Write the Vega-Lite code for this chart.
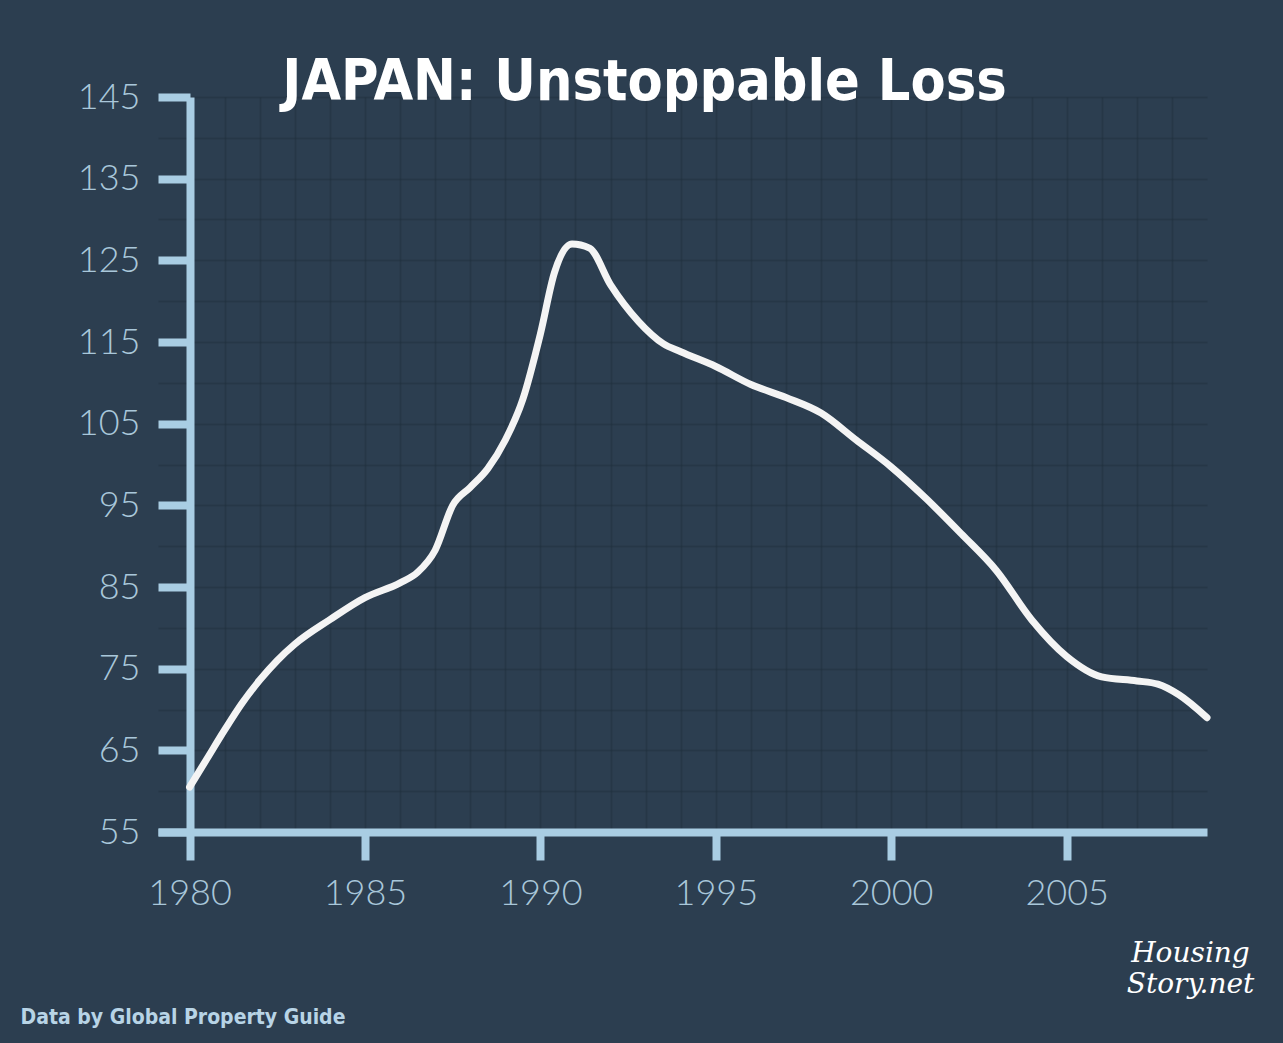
{
  "$schema": "https://vega.github.io/schema/vega-lite/v6.json",
  "width": 1049,
  "height": 735,
  "autosize": {"type": "none"},
  "padding": {"left": 158, "top": 97, "right": 76, "bottom": 211},
  "background": "#2c3e50",
  "config": {"view": {"stroke": null}},
  "title": {
    "text": "JAPAN: Unstoppable Loss",
    "font": "Liberation Sans Narrow, DejaVu Sans Condensed, Arial Narrow, sans-serif",
    "fontSize": 57,
    "fontWeight": "bold",
    "color": "#ffffff",
    "anchor": "middle",
    "frame": "group",
    "baseline": "alphabetic",
    "offset": 0,
    "dx": -38,
    "dy": 78
  },
  "data": {
    "values": [
      {"year": 1980.0, "index": 60.5},
      {"year": 1980.5, "index": 64.0},
      {"year": 1981.0, "index": 67.5},
      {"year": 1981.5, "index": 70.8},
      {"year": 1982.0, "index": 73.6},
      {"year": 1982.5, "index": 76.0},
      {"year": 1983.0, "index": 78.0},
      {"year": 1984.0, "index": 81.0},
      {"year": 1985.0, "index": 83.7},
      {"year": 1986.0, "index": 85.5},
      {"year": 1986.5, "index": 86.8},
      {"year": 1987.0, "index": 89.5},
      {"year": 1987.5, "index": 95.0},
      {"year": 1988.0, "index": 97.2},
      {"year": 1988.5, "index": 99.5},
      {"year": 1989.0, "index": 103.0},
      {"year": 1989.5, "index": 108.0},
      {"year": 1990.0, "index": 116.0},
      {"year": 1990.4, "index": 123.5},
      {"year": 1990.9, "index": 127.0},
      {"year": 1991.4, "index": 126.5},
      {"year": 1992.0, "index": 122.0},
      {"year": 1992.8, "index": 117.5},
      {"year": 1993.5, "index": 114.8},
      {"year": 1994.0, "index": 113.8},
      {"year": 1995.0, "index": 112.0},
      {"year": 1996.0, "index": 109.8},
      {"year": 1997.0, "index": 108.2},
      {"year": 1998.0, "index": 106.3},
      {"year": 1999.0, "index": 103.0},
      {"year": 2000.0, "index": 99.7},
      {"year": 2001.0, "index": 95.8},
      {"year": 2002.0, "index": 91.5},
      {"year": 2003.0, "index": 87.0},
      {"year": 2004.0, "index": 81.0},
      {"year": 2005.0, "index": 76.5},
      {"year": 2006.0, "index": 74.0},
      {"year": 2007.0, "index": 73.5},
      {"year": 2007.6, "index": 73.1},
      {"year": 2008.2, "index": 71.8},
      {"year": 2009.0, "index": 69.0}
    ]
  },
  "resolve": {"axis": {"x": "independent", "y": "independent"}},
  "layer": [
    {
      "mark": {"type": "line", "strokeOpacity": 0},
      "encoding": {
        "x": {
          "field": "year",
          "type": "quantitative",
          "scale": {"domain": [1979.1, 2009], "nice": false, "zero": false},
          "axis": {
            "orient": "top",
            "values": [1980, 1981, 1982, 1983, 1984, 1985, 1986, 1987, 1988, 1989, 1990, 1991, 1992, 1993, 1994, 1995, 1996, 1997, 1998, 1999, 2000, 2001, 2002, 2003, 2004, 2005, 2006, 2007, 2008],
            "grid": true,
            "gridColor": "#1f2e3c",
            "gridWidth": 1.5,
            "gridOpacity": 0.45,
            "domain": false,
            "ticks": false,
            "labels": false,
            "title": null
          }
        },
        "y": {
          "field": "index",
          "type": "quantitative",
          "scale": {"domain": [55, 145], "nice": false, "zero": false},
          "axis": {
            "orient": "right",
            "values": [60, 65, 70, 75, 80, 85, 90, 95, 100, 105, 110, 115, 120, 125, 130, 135, 140, 145],
            "grid": true,
            "gridColor": "#1f2e3c",
            "gridWidth": 1.5,
            "gridOpacity": 0.45,
            "domain": false,
            "ticks": false,
            "labels": false,
            "title": null
          }
        }
      }
    },
    {
      "mark": {"type": "line", "color": "#f4f4f4", "strokeWidth": 7, "interpolate": "monotone", "strokeCap": "round", "strokeJoin": "round"},
      "encoding": {
        "x": {
          "field": "year",
          "type": "quantitative",
          "scale": {"domain": [1979.1, 2009], "nice": false, "zero": false},
          "axis": {
            "orient": "bottom",
            "values": [1980, 1985, 1990, 1995, 2000, 2005],
            "format": "d",
            "grid": false,
            "domainColor": "#a9cde3",
            "domainWidth": 8,
            "tickColor": "#a9cde3",
            "tickWidth": 8,
            "tickSize": 28,
            "labelFont": "Lato",
            "labelFontWeight": 300,
            "labelFontSize": 36,
            "labelColor": "#a9c7da",
            "labelPadding": 16,
            "title": "Data by Global Property Guide",
            "titleFont": "Liberation Sans Narrow, DejaVu Sans Condensed, sans-serif",
            "titleFontWeight": "bold",
            "titleFontSize": 21,
            "titleColor": "#b8d4e6",
            "titleAlign": "left",
            "titleAnchor": "start",
            "titleBaseline": "alphabetic",
            "titleX": -138,
            "titleY": 191
          }
        },
        "y": {
          "field": "index",
          "type": "quantitative",
          "scale": {"domain": [55, 145], "nice": false, "zero": false},
          "axis": {
            "orient": "left",
            "offset": -32,
            "values": [55, 65, 75, 85, 95, 105, 115, 125, 135, 145],
            "grid": false,
            "domainColor": "#a9cde3",
            "domainWidth": 8,
            "tickColor": "#a9cde3",
            "tickWidth": 8,
            "tickSize": 32,
            "labelFont": "Lato",
            "labelFontWeight": 300,
            "labelFontSize": 36,
            "labelColor": "#a9c7da",
            "labelPadding": 18,
            "title": ["Housing", "Story.net"],
            "titleFont": "DejaVu Serif",
            "titleFontStyle": "italic",
            "titleFontWeight": "normal",
            "titleFontSize": 28,
            "titleColor": "#ffffff",
            "titleAngle": 0,
            "titleAlign": "center",
            "titleBaseline": "alphabetic",
            "titleLineHeight": 31,
            "titleX": 1000,
            "titleY": 864
          }
        }
      }
    }
  ]
}
